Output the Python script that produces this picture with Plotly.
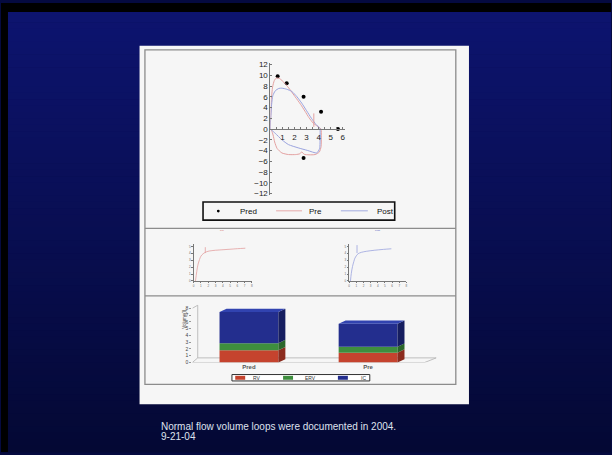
import plotly.graph_objects as go

W, H = 612, 455

# ---------------- data ----------------
pred_volume = [0.6, 1.35, 2.75, 4.2, 5.6, 2.75]
pred_flow = [9.8, 8.5, 6.0, 3.2, 0.0, -5.4]

pre_volume = [0.0, 0.03, 0.08, 0.18, 0.32, 0.5, 0.75, 1.2, 1.6, 2.05, 2.5, 2.87, 3.2, 3.55, 3.85, 4.05, 4.2,
              4.22, 4.2, 4.05, 3.7, 3.2, 2.8, 2.6, 2.45, 2.1, 1.5, 0.95, 0.55, 0.35, 0.22, 0.1, 0.0]
pre_flow = [0.0, 2.5, 5.5, 7.8, 9.0, 9.5, 9.4, 8.5, 7.4, 6.0, 4.6, 3.3, 2.1, 1.1, 0.6, 0.3, 0.0,
            -1.5, -3.3, -4.3, -4.75, -4.8, -4.7, -4.25, -4.6, -4.75, -4.75, -4.45, -3.6, -2.4, -1.1, -0.3, 0.0]
pre_mark_volume = [3.6, 3.6]
pre_mark_flow = [0.4, 2.9]

post_volume = [0.0, 0.04, 0.1, 0.2, 0.4, 0.7, 0.95, 1.35, 1.77, 2.2, 2.6, 3.0, 3.4, 3.8, 4.1,
               4.12, 4.08, 3.85, 3.1, 2.3, 1.5, 0.95, 0.4, 0.1, 0.0]
post_flow = [0.0, 2.5, 4.6, 6.2, 7.1, 7.55, 7.6, 7.4, 7.0, 6.0, 4.8, 3.4, 2.0, 0.8, 0.1,
             -1.5, -3.6, -4.45, -4.0, -3.5, -2.9, -2.0, -0.8, -0.2, 0.0]

pre_time = [0.25, 0.35, 0.5, 0.65, 0.8, 1.0, 1.3, 1.8, 2.5, 3.6, 5.0, 6.0, 7.1]
pre_tv = [0.0, 0.8, 1.9, 2.6, 3.1, 3.6, 3.95, 4.25, 4.4, 4.5, 4.6, 4.68, 4.75]
pre_tmark_time = [1.6, 1.6]
pre_tmark_vol = [4.05, 4.9]
post_time = [0.18, 0.3, 0.47, 0.65, 0.8, 1.0, 1.25, 1.7, 2.4, 3.5, 4.8, 5.9]
post_tv = [0.0, 1.1, 2.1, 2.8, 3.3, 3.65, 3.95, 4.15, 4.3, 4.45, 4.58, 4.67]
post_tmark_time = [1.1, 1.1]
post_tmark_vol = [4.05, 5.2]

bar_categories = ["Pred", "Pre"]
rv_values = [1.8, 1.45]
erv_values = [1.05, 0.88]
ic_values = [4.6, 3.39]
segment_names = ["RV", "ERV", "IC"]

loop_series = ["Pred", "Pre", "Post"]
flow_ticks = list(range(-12, 13, 2))
vol_ticks = [1, 2, 3, 4, 5, 6]
bar_ticks = list(range(0, 9))

caption_line1 = "Normal flow volume loops were documented in 2004."
caption_line2 = "9-21-04"

# ---------------- styles ----------------
PINK = "#e3a0a0"
BLUE = "#9aa3de"
FONT = "Liberation Sans, Arial, sans-serif"
seg_front = ["#c5432e", "#3e8e3e", "#232e8e"]
seg_side = ["#8c2c1e", "#2a662a", "#161e60"]
top_color = "#3143b0"


def fx(px):
    return px / W


def fy(py):
    return 1 - py / H


fig = go.Figure()

# ---------- flow-volume loop ----------
fig.add_trace(go.Scatter(x=pred_volume, y=pred_flow, mode="markers", name=loop_series[0],
                         marker=dict(color="black", size=4), xaxis="x", yaxis="y"))
fig.add_trace(go.Scatter(x=pre_volume, y=pre_flow, mode="lines", name=loop_series[1],
                         line=dict(color=PINK, width=1, shape="spline", smoothing=0.6), xaxis="x", yaxis="y"))
fig.add_trace(go.Scatter(x=post_volume, y=post_flow, mode="lines", name=loop_series[2],
                         line=dict(color=BLUE, width=1, shape="spline", smoothing=0.6), xaxis="x", yaxis="y"))
fig.add_trace(go.Scatter(x=pre_mark_volume, y=pre_mark_flow, mode="lines", showlegend=False,
                         line=dict(color=PINK, width=1), xaxis="x", yaxis="y"))

# ---------- small volume-time plots ----------
fig.add_trace(go.Scatter(x=pre_time, y=pre_tv, mode="lines", showlegend=False,
                         line=dict(color=PINK, width=0.8, shape="spline"), xaxis="x2", yaxis="y2"))
fig.add_trace(go.Scatter(x=pre_tmark_time, y=pre_tmark_vol, mode="lines", showlegend=False,
                         line=dict(color=PINK, width=0.8), xaxis="x2", yaxis="y2"))
fig.add_trace(go.Scatter(x=post_time, y=post_tv, mode="lines", showlegend=False,
                         line=dict(color=BLUE, width=0.8, shape="spline"), xaxis="x3", yaxis="y3"))
fig.add_trace(go.Scatter(x=post_tmark_time, y=post_tmark_vol, mode="lines", showlegend=False,
                         line=dict(color=BLUE, width=0.8), xaxis="x3", yaxis="y3"))

# ---------- 3D-style stacked bars ----------
xpos = list(range(len(bar_categories)))
bw = 0.494
ddx, ddy = 0.0586, 0.49
segments = [rv_values, erv_values, ic_values]
bases = [0.0] * len(xpos)
for si, vals in enumerate(segments):
    fig.add_trace(go.Bar(x=xpos, y=vals, base=bases[:], width=bw, name=segment_names[si],
                         marker=dict(color=seg_front[si], line=dict(width=0)),
                         showlegend=False, xaxis="x4", yaxis="y4"))
    for i, xc in enumerate(xpos):
        b, t = bases[i], bases[i] + vals[i]
        xr = xc + bw / 2
        fig.add_trace(go.Scatter(x=[xr, xr + ddx, xr + ddx, xr, xr],
                                 y=[b, b + ddy, t + ddy, t, b],
                                 fill="toself", fillcolor=seg_side[si], mode="lines",
                                 line=dict(width=0, color=seg_side[si]), showlegend=False,
                                 hoverinfo="skip", xaxis="x4", yaxis="y4"))
    bases = [bases[i] + vals[i] for i in range(len(xpos))]
for i, xc in enumerate(xpos):
    T = bases[i]
    xl, xr = xc - bw / 2, xc + bw / 2
    fig.add_trace(go.Scatter(x=[xl, xl + ddx, xr + ddx, xr, xl],
                             y=[T, T + ddy, T + ddy, T, T],
                             fill="toself", fillcolor=top_color, mode="lines",
                             line=dict(width=0, color=top_color), showlegend=False,
                             hoverinfo="skip", xaxis="x4", yaxis="y4"))

# ---------- shapes: slide background, paper, frames ----------
shapes = []
N = 70
c0, c1 = (13, 20, 112), (4, 8, 52)
for k in range(N):
    t = k / (N - 1)
    col = tuple(round(c0[j] + (c1[j] - c0[j]) * t) for j in range(3))
    shapes.append(dict(type="rect", xref="paper", yref="paper", layer="below",
                       x0=0, x1=1, y0=fy((k + 1) * H / N + 0.5), y1=fy(k * H / N),
                       fillcolor="rgb(%d,%d,%d)" % col, line=dict(width=0)))
shapes.append(dict(type="rect", xref="paper", yref="paper", layer="below",
                   x0=0, x1=1, y0=fy(9), y1=1, fillcolor="black", line=dict(width=0)))
shapes.append(dict(type="rect", xref="paper", yref="paper", layer="below",
                   x0=0, x1=fx(7), y0=0, y1=1, fillcolor="black", line=dict(width=0)))
shapes.append(dict(type="rect", xref="paper", yref="paper", layer="below",
                   x0=fx(139), x1=fx(469.5), y0=fy(406.7), y1=fy(43.3),
                   fillcolor="#f6f6f6", line=dict(width=0)))
shapes.append(dict(type="rect", xref="paper", yref="paper", layer="below",
                   x0=fx(144.4), x1=fx(456.3), y0=fy(386.5), y1=fy(47.5),
                   fillcolor="rgba(0,0,0,0)", line=dict(width=1.3, color="#8c8c8c")))
for yy in (228.3, 296.7):
    shapes.append(dict(type="line", xref="paper", yref="paper", layer="below",
                       x0=fx(144.4), x1=fx(456.3), y0=fy(yy), y1=fy(yy),
                       line=dict(width=1.3, color="#8c8c8c")))

# floor and back wall of 3D bar chart
xmin4, xmax4 = -0.475, 1.575
floor_path = "M %f,0 L 1.475,0 L 1.572,0.68 L -0.43,0.68 Z" % xmin4
shapes.append(dict(type="path", xref="x4", yref="y4", layer="below", path=floor_path,
                   fillcolor="rgba(0,0,0,0)", line=dict(color="#b0b0b0", width=0.8)))
shapes.append(dict(type="path", xref="x4", yref="y4", layer="below",
                   path="M -0.43,0.68 L -0.43,8.45 L %f,8.0" % xmin4,
                   line=dict(color="#b0b0b0", width=0.8)))

annotations = []

# legend of the flow-volume loop (drawn as a boxed key)
shapes.append(dict(type="rect", xref="paper", yref="paper", x0=fx(202.7), x1=fx(395),
                   y0=fy(220), y1=fy(201.7), fillcolor="#f6f6f6", line=dict(color="#111", width=1.6)))
shapes.append(dict(type="circle", xref="paper", yref="paper", x0=fx(216.6), x1=fx(219.4),
                   y0=fy(212.2), y1=fy(209.4), fillcolor="black", line=dict(width=0)))
for (xa, xb), col in (((276, 302), PINK), ((341, 368), BLUE)):
    shapes.append(dict(type="line", xref="paper", yref="paper", x0=fx(xa), x1=fx(xb),
                       y0=fy(210.6), y1=fy(210.6), line=dict(color=col, width=0.9)))
for name, xt in zip(loop_series, (248.5, 316, 385.5)):
    annotations.append(dict(xref="paper", yref="paper", x=fx(xt), y=fy(211), text=name,
                            showarrow=False, xanchor="center", yanchor="middle",
                            font=dict(size=8, color="#111", family=FONT)))

# legend of the bar chart
shapes.append(dict(type="rect", xref="paper", yref="paper", x0=fx(231.7), x1=fx(370),
                   y0=fy(383), y1=fy(376.5), fillcolor="#ffffff", line=dict(color="#333", width=1)))
sw_x = [235, 283, 338]
txt_x = [257, 311, 364]
for i in range(3):
    shapes.append(dict(type="rect", xref="paper", yref="paper", x0=fx(sw_x[i]), x1=fx(sw_x[i] + 10),
                       y0=fy(381.8), y1=fy(377.8), fillcolor=seg_front[i], line=dict(width=0)))
    annotations.append(dict(xref="paper", yref="paper", x=fx(txt_x[i]), y=fy(379.8), text=segment_names[i],
                            showarrow=False, font=dict(size=5, color="#333", family=FONT),
                            xanchor="center", yanchor="middle"))

annotations += [
    dict(xref="paper", yref="paper", x=fx(222.7), y=fy(230.8), text="Pre", showarrow=False,
         font=dict(size=2.5, color="#d06060", family=FONT)),
    dict(xref="paper", yref="paper", x=fx(378), y=fy(231), text="Post", showarrow=False,
         font=dict(size=2.5, color="#5060c0", family=FONT)),
    dict(xref="paper", yref="paper", x=fx(159), y=fy(429.5), text=caption_line1, showarrow=False,
         xanchor="left", yanchor="middle", font=dict(size=10, color="#dfe2ee", family=FONT)),
    dict(xref="paper", yref="paper", x=fx(159), y=fy(439.5), text=caption_line2, showarrow=False,
         xanchor="left", yanchor="middle", font=dict(size=10, color="#dfe2ee", family=FONT)),
    dict(xref="paper", yref="paper", x=fx(179.3), y=fy(332), text="Volume(l)", showarrow=False,
         textangle=-90, font=dict(size=4.5, color="#444", family=FONT)),
]

small_axis = dict(showline=True, linecolor="#777", linewidth=0.8, ticks="outside", ticklen=1.5,
                  tickcolor="#777", tickwidth=0.6, showgrid=False, zeroline=False,
                  tickfont=dict(size=3, color="#666", family=FONT), dtick=1)

fig.update_layout(
    width=W, height=H, margin=dict(l=0, r=0, t=0, b=0),
    paper_bgcolor="#050a40", plot_bgcolor="rgba(0,0,0,0)",
    font=dict(family=FONT),
    shapes=shapes, annotations=annotations,
    barmode="overlay", showlegend=False,
    xaxis=dict(domain=[fx(270.3), fx(344.7)], range=[0, 6.15], anchor="free", position=fy(127.7),
               showline=True, linecolor="#777", linewidth=1, tickvals=vol_ticks,
               ticks="inside", ticklen=2, tickcolor="#777",
               minor=dict(dtick=0.5, ticks="inside", ticklen=2, tickcolor="#777"),
               showgrid=False, zeroline=False, tickfont=dict(size=8, color="#222")),
    yaxis=dict(domain=[fy(194.7), fy(60.7)], range=[-12.3, 12.3], anchor="x",
               showline=True, linecolor="#777", linewidth=1, tickvals=flow_ticks,
               ticks="inside", ticklen=2, tickcolor="#777",
               showgrid=False, zeroline=False, tickfont=dict(size=8, color="#222")),
    xaxis2=dict(domain=[fx(193.3), fx(251.7)], range=[0, 8], anchor="y2", **small_axis),
    yaxis2=dict(domain=[fy(281.7), fy(244.3)], range=[0, 5.35], anchor="x2", **small_axis),
    xaxis3=dict(domain=[fx(349.3), fx(406.7)], range=[0, 8], anchor="y3", **small_axis),
    yaxis3=dict(domain=[fy(281.7), fy(244.3)], range=[0, 5.35], anchor="x3", **small_axis),
    xaxis4=dict(domain=[fx(192), fx(437)], range=[xmin4, xmax4], anchor="y4",
                tickvals=xpos, ticktext=bar_categories, showline=False, ticks="",
                showgrid=False, zeroline=False,
                tickfont=dict(size=6, color="#555", family=FONT, weight="bold")),
    yaxis4=dict(domain=[fy(364.3), fy(305.9)], range=[0, 8.5], anchor="x4",
                tickvals=bar_ticks, ticks="outside", ticklen=2, tickcolor="#999",
                showline=False, showgrid=False, zeroline=False,
                tickfont=dict(size=5, color="#444", family=FONT)),
)

fig.write_html("out.html", config={"displayModeBar": False},
               post_script="document.body.style.margin='0';document.body.style.overflow='hidden';")
